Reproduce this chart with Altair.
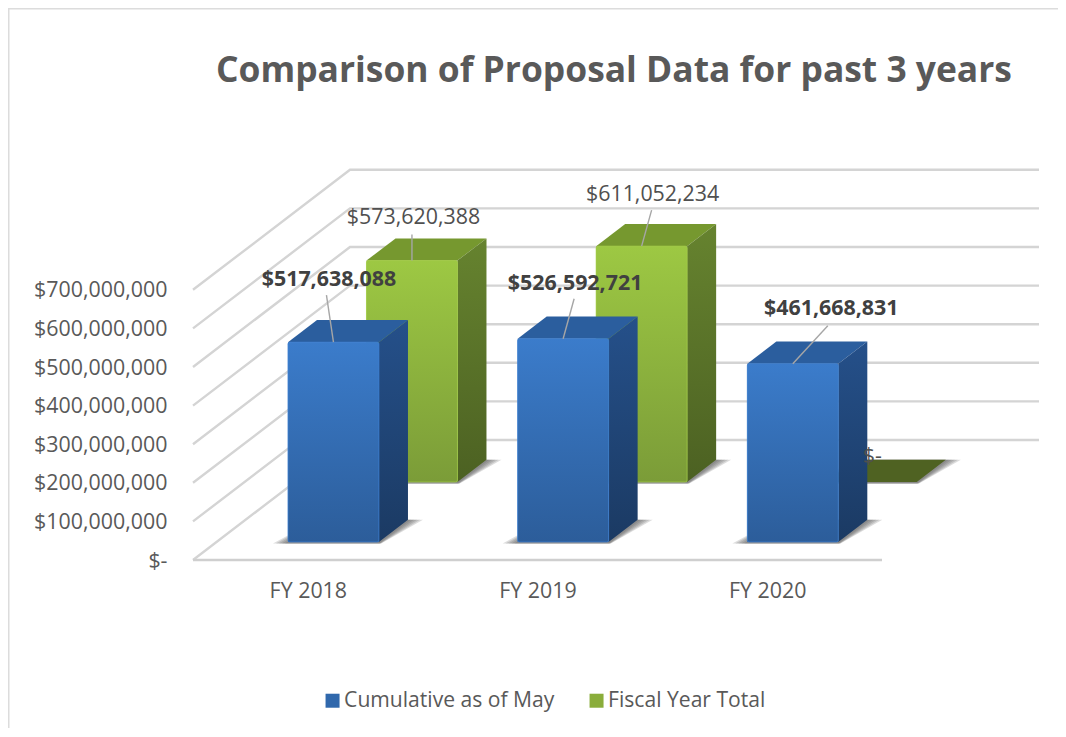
import altair as alt
import pandas as pd

# ---- chart values
categories = ["FY 2018", "FY 2019", "FY 2020"]
cumulative = [517638088, 526592721, 461668831]
fiscal_total = [573620388, 611052234, 0]
series_names = ["Cumulative as of May", "Fiscal Year Total"]
axis_ticks = [0, 100000000, 200000000, 300000000, 400000000, 500000000, 600000000, 700000000]

# ---- figure size and oblique projection of the 3-D box
W, H = 1050, 720
PX_PER_CAT = 229.67
PX_PER_USD = 38.6 / 1e8
ZERO_X, ZERO_Y = 185.0, 552.0           # where category 0 / value 0 sit in the plot
DEPTH_X = 157 / PX_PER_CAT              # one depth unit, in category units
DEPTH_Y = 120 / PX_PER_USD              # one depth unit, in dollars
U0, U1 = 0.311, 0.707                   # bar extent inside its category slot
DEPTHS = {series_names[0]: (0.15, 0.335), series_names[1]: (0.65, 0.835)}
FONT = "Open Sans"
GREY = "#595959"
TEXT_SIZE = 21.4


def px(c, u=0.0, d=0.0):
    return c + u + d * DEPTH_X


def py(v, d=0.0):
    return v + d * DEPTH_Y


sx = alt.Scale(domain=[-ZERO_X / PX_PER_CAT, (W - ZERO_X) / PX_PER_CAT], range=[0, W], nice=False, zero=False)
sy = alt.Scale(domain=[-(H - ZERO_Y) / PX_PER_USD, ZERO_Y / PX_PER_USD], range=[H, 0], nice=False, zero=False)

X = alt.X(
    "x:Q", scale=sx,
    axis=alt.Axis(
        values=[0.5, 1.5, 2.5], title=None, grid=False, domain=False, ticks=False,
        labelExpr="'FY ' + (2018 + floor(datum.value))", labelFont=FONT, labelFontSize=TEXT_SIZE,
        labelColor=GREY, labelPadding=0, offset=-(H - 572), labelFlush=False, labelOverlap=False,
    ),
)
Y = alt.Y(
    "y:Q", scale=sy,
    axis=alt.Axis(
        values=axis_ticks, title=None, grid=False, domain=False, ticks=False,
        labelExpr="datum.value == 0 ? '$-' : '$' + format(datum.value, ',')",
        labelFont=FONT, labelFontSize=TEXT_SIZE, labelColor=GREY, labelPadding=0, offset=-159,
        labelOverlap=False, labelFlush=False, labelLimit=300, labelOffset=1,
    ),
)
X2 = alt.X2("x2:Q")
Y2 = alt.Y2("y2:Q")


def vgrad(*stops):
    return alt.Gradient(
        gradient="linear", x1=0, x2=0, y1=0, y2=1,
        stops=[alt.GradientStop(offset=o, color=c) for o, c in stops],
    )


# ---- walls and floor
grid_rows = []
for v in axis_ticks:
    grid_rows += [
        {"k": v, "x": px(0), "y": py(v)},
        {"k": v, "x": px(0, 0, 1), "y": py(v, 1)},
        {"k": v, "x": px(3, 0, 1), "y": py(v, 1)},
    ]
grid = alt.Chart(pd.DataFrame(grid_rows)).mark_line(color="#d4d4d4", strokeWidth=2.4).encode(
    x=X, y=Y, detail="k:N", order=alt.Order("x:Q")
)
front_edge = alt.Chart(pd.DataFrame([{"x": px(0), "x2": px(3), "y": 0}])).mark_rule(
    color="#cfcfcf", strokeWidth=2.4
).encode(x=X, x2=X2, y=Y)

layers = [grid, front_edge]

STYLE = {
    series_names[1]: dict(
        base="#8aad3b", top="#76982f", edge="#a4cf46",
        side=vgrad((0, "#66832f"), (1, "#4c6122")),
        front=vgrad((0, "#9dc843"), (1, "#7b9c38")),
    ),
    series_names[0]: dict(
        base="#3068ac", top="#2b5e9e", edge="#3f82d4",
        side=vgrad((0, "#25508a"), (1, "#1b3a63")),
        front=vgrad((0, "#3b7ccb"), (1, "#2c5d9a")),
    ),
}
color = alt.Color(
    "series:N",
    scale=alt.Scale(domain=series_names, range=[STYLE[series_names[0]]["base"], STYLE[series_names[1]]["base"]]),
    legend=alt.Legend(
        title=None, orient="none", legendX=314, legendY=682, direction="horizontal",
        symbolType="square", symbolSize=196, symbolOpacity=1, labelFont=FONT, labelFontSize=21.1,
        labelColor=GREY, labelOffset=1, columnPadding=31, symbolStrokeWidth=0, labelLimit=400,
    ),
)

# the shadow is a stack of faint footprints, each one a little larger, which reads as a blur
SHADOW_GROW = [3 / PX_PER_CAT, 6 / PX_PER_CAT, 9 / PX_PER_CAT, 12 / PX_PER_CAT, 15 / PX_PER_CAT]
for name, values in [(series_names[1], fiscal_total), (series_names[0], cumulative)]:
    d0, d1 = DEPTHS[name]
    st = STYLE[name]
    top, side, front = [], [], []
    for c, v in enumerate(values):
        key = f"{name}{c}"
        top += [
            {"k": key, "x": px(c, U0, d0), "x2": px(c, U1, d0), "y": py(v, d0), "v": v},
            {"k": key, "x": px(c, U0, d1), "x2": px(c, U1, d1), "y": py(v, d1), "v": v},
        ]
        if v > 0:
            side += [
                {"k": key, "x": px(c, U1, d0), "y": py(0, d0), "y2": py(v, d0)},
                {"k": key, "x": px(c, U1, d1), "y": py(0, d1), "y2": py(v, d1)},
            ]
            front.append({"series": name, "x": px(c, U0, d0), "x2": px(c, U1, d0), "y": py(0, d0), "y2": py(v, d0)})
    for g in SHADOW_GROW:
        shadow = []
        for c, v in enumerate(values):
            key = f"{name}{c}"
            shadow += [
                {"k": key, "x": px(c, U0, d0) - g, "x2": px(c, U1, d0) + 0.15 * g, "y": py(0, d0) - 1.5 / PX_PER_USD},
                {"k": key, "x": px(c, U0, d1), "x2": px(c, U1, d1) + g, "y": py(0, d1)},
            ]
        layers.append(alt.Chart(pd.DataFrame(shadow)).mark_area(
            orient="horizontal", color="#555555", opacity=0.2).encode(x=X, x2=X2, y=Y, detail="k:N"))
    tops = pd.DataFrame(top)
    layers.append(alt.Chart(tops[tops.v > 0]).mark_area(orient="horizontal", color=st["top"]).encode(
        x=X, x2=X2, y=Y, detail="k:N"))
    if (tops.v == 0).any():
        layers.append(alt.Chart(tops[tops.v == 0]).mark_area(orient="horizontal", color="#4f6222").encode(
            x=X, x2=X2, y=Y, detail="k:N"))
    layers.append(alt.Chart(pd.DataFrame(side)).mark_area(color=st["side"]).encode(
        x=X, y=Y, y2=Y2, detail="k:N"))
    layers.append(alt.Chart(pd.DataFrame(front)).mark_rect().encode(x=X, x2=X2, y=Y, y2=Y2, color=color))
    layers.append(alt.Chart(pd.DataFrame(front)).mark_rect(
        color=st["front"], cornerRadius=2, stroke=st["edge"], strokeWidth=1, strokeOpacity=0.7
    ).encode(x=X, x2=X2, y=Y, y2=Y2))

# ---- value labels with leader lines, offsets in pixels from the bar's front top edge
leader_offsets = {(0, 0): (-7, -47), (1, 0): (0, -26), (0, 1): (11, -40), (1, 1): (10, -36), (0, 2): (35, -38)}
label_offsets = {(0, 0): (-4.5, -64), (1, 0): (1.5, -44.7), (0, 1): (12, -57), (1, 1): (11, -53),
                 (0, 2): (38.5, -57), (1, 2): (1, -27)}
leaders, bold_labels, plain_labels = [], [], []
for s, (name, values) in enumerate([(series_names[0], cumulative), (series_names[1], fiscal_total)]):
    d0 = DEPTHS[name][0]
    for c, v in enumerate(values):
        ax, ay = px(c, (U0 + U1) / 2, d0), py(v, d0)
        if (s, c) in leader_offsets:
            ox, oy = leader_offsets[(s, c)]
            leaders.append({"x": ax, "y": ay, "x2": ax + ox / PX_PER_CAT, "y2": ay - oy / PX_PER_USD})
        ox, oy = label_offsets[(s, c)]
        row = {"x": ax + ox / PX_PER_CAT, "y": ay - oy / PX_PER_USD,
               "label": f"${v:,.0f}" if v else "$-"}
        (bold_labels if s == 0 else plain_labels).append(row)

layers.append(alt.Chart(pd.DataFrame(leaders)).mark_rule(color="#a6a6a6", strokeWidth=1.4).encode(
    x=X, x2=X2, y=Y, y2=Y2))
layers.append(alt.Chart(pd.DataFrame(plain_labels)).mark_text(
    font=FONT, fontSize=TEXT_SIZE, color="#505050", baseline="middle", dy=2).encode(x=X, y=Y, text="label:N"))
layers.append(alt.Chart(pd.DataFrame(bold_labels)).mark_text(
    font=FONT, fontSize=TEXT_SIZE, fontWeight="bold", color="#404040", baseline="middle", dy=2).encode(x=X, y=Y, text="label:N"))

# ---- outer frame (top and left edges only)
layers.append(alt.Chart(pd.DataFrame({"a": [0]})).mark_rule(color="#dcdcdc", strokeWidth=2).encode(
    x=alt.value(0), x2=alt.value(W), y=alt.value(0.5)))
layers.append(alt.Chart(pd.DataFrame({"a": [0]})).mark_rule(color="#dcdcdc", strokeWidth=2).encode(
    x=alt.value(0.5), y=alt.value(0), y2=alt.value(H)))

chart = (
    alt.layer(*layers)
    .properties(
        width=W, height=H, padding=0, autosize=alt.AutoSizeParams(type="none"), background="white",
        title=alt.TitleParams(
            "Comparison of Proposal Data for past 3 years", anchor="start", frame="group",
            dx=208, dy=110, font=FONT, fontSize=35.4, fontWeight="bold", color=GREY, baseline="alphabetic", offset=0,
        ),
    )
    .configure_view(stroke=None)
)

chart.save("out.html", embed_options={"renderer": "svg", "actions": False})
